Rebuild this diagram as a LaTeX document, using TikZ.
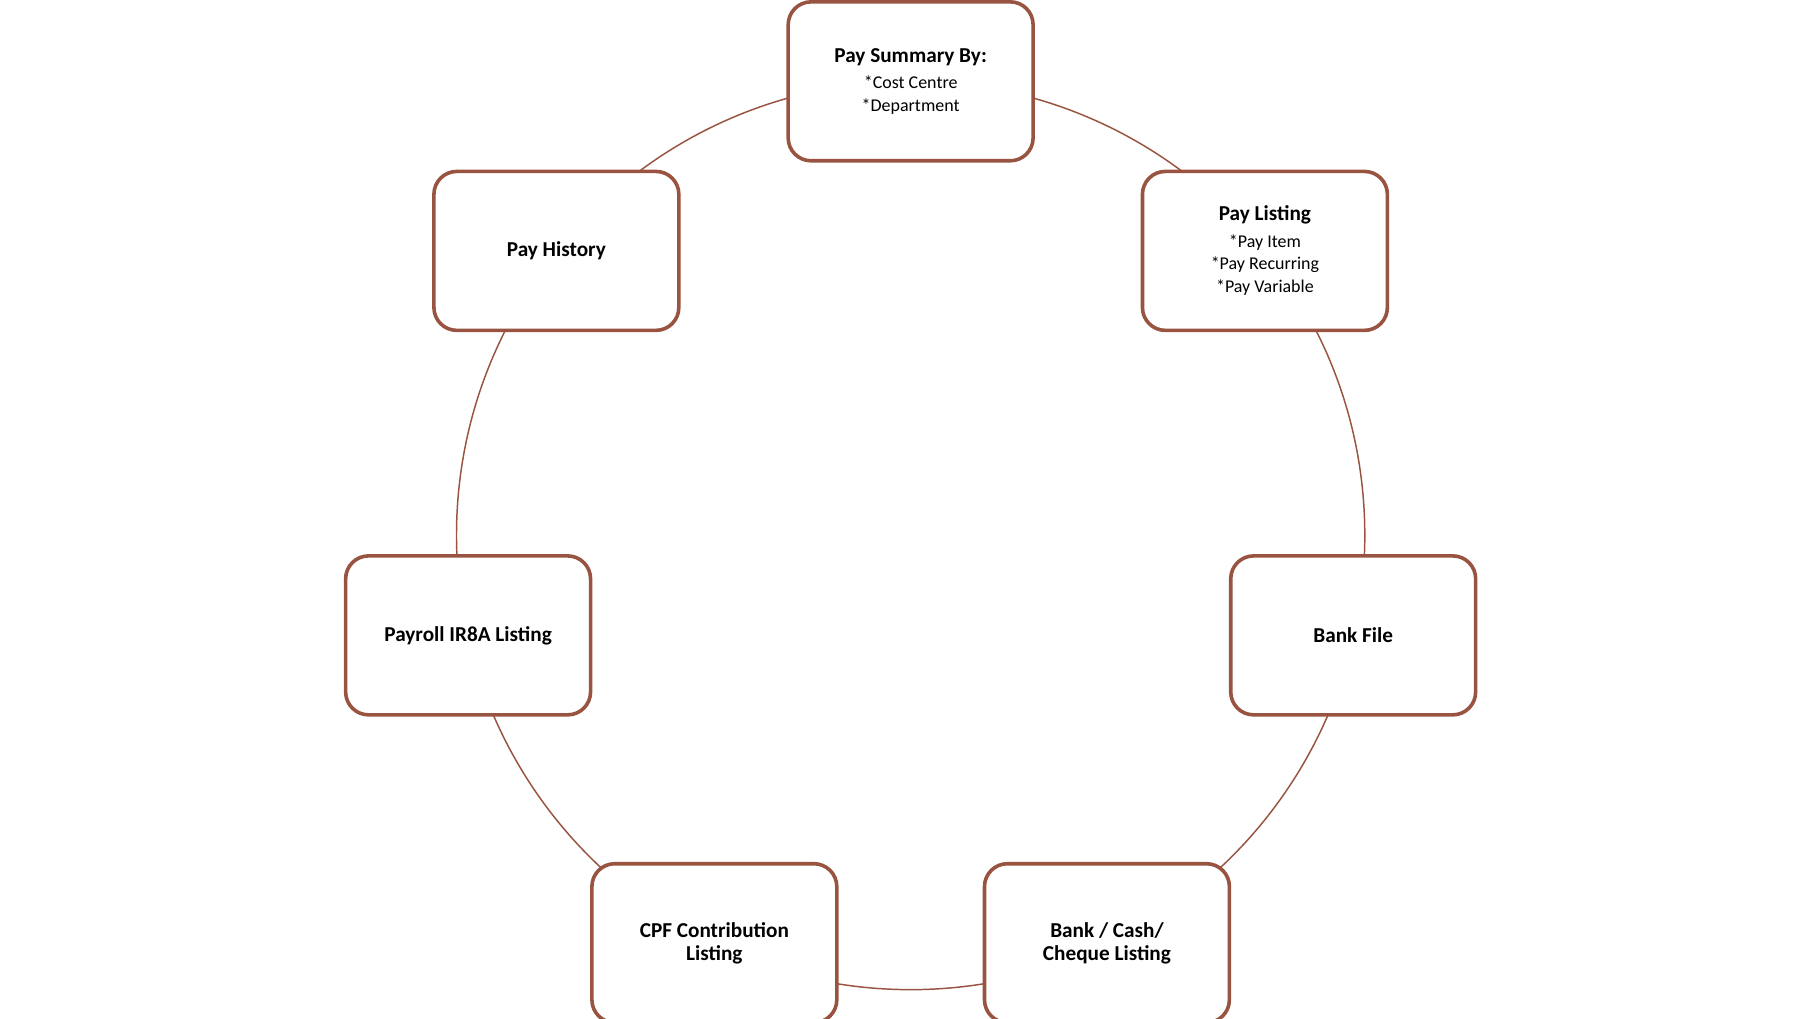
\documentclass[tikz,border=0pt]{standalone}
\usepackage{fontspec}
\setmainfont{Carlito}
\definecolor{boxbrown}{RGB}{152,84,64}
\newcommand{\reportline}[1]{{\normalfont\fontsize{11}{14.5}\selectfont #1}}
\tikzset{
  report/.style={draw=boxbrown, line width=2.2pt, fill=white, rounded corners=14pt,
    minimum width=5.27cm, minimum height=3.42cm, align=center, font=\bfseries\fontsize{13}{14}\selectfont}
}
\begin{document}
\begin{tikzpicture}[x=0.025cm,y=-0.025cm]
	\useasboundingbox (0,0) rectangle (1560,877);
	\draw [boxbrown, line width=0.9pt] (784,461) circle [radius=391];

	\node[report] (summary) at (784,70) {Pay Summary By:\\[2pt] \reportline{*Cost Centre}\\ \reportline{*Department}};
	\node[report] (listing) at (1089,216) {Pay Listing\\[2pt] \reportline{*Pay Item}\\ \reportline{*Pay Recurring}\\ \reportline{*Pay Variable}};
	\node[report] (bankfile) at (1165,547) {Bank File};
	\node[report] (cheque) at (953,812) {Bank / Cash/\\Cheque Listing};
	\node[report] (cpf) at (615,812) {CPF Contribution\\Listing};
	\node[report] (ir8a) at (403,547) {Payroll IR8A Listing};
	\node[report] (history) at (479,216) {Pay History};
\end{tikzpicture}
\end{document}
